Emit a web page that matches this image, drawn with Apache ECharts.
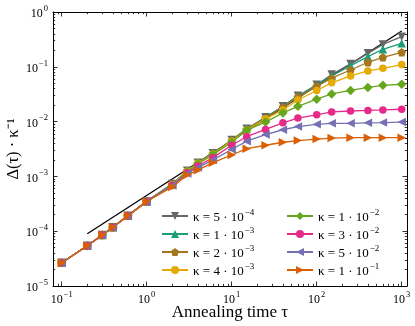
<!DOCTYPE html>
<html>
<head>
<meta charset="utf-8">
<script src="https://cdn.jsdelivr.net/npm/echarts@6/dist/echarts.min.js"></script>
<style>
  html, body { margin: 0; padding: 0; background: #fff; }
  #chart { width: 415px; height: 326px; }
</style>
</head>
<body>
<div id="chart"></div>
<script>
// annealing times (shared by every curve)
const tau = [0.1, 0.2, 0.3, 0.4, 0.6, 1, 2, 3, 4, 6, 10, 15, 25, 40, 60, 100, 150, 250, 400, 600, 1000]

// kappa values, written as mantissa * 10^exp
const kappaMant = [5, 1, 2, 4, 1, 3, 5, 1]
const kappaExp = [-4, -3, -3, -3, -2, -2, -2, -1]

// Delta(tau) / kappa, one array per kappa
const k5e4 = [2.66e-5, 5.44e-5, 8.5e-5, 1.18e-4, 1.92e-4, 3.5e-4, 7.3e-4, 1.27e-3, 1.78e-3, 2.64e-3, 4.6e-3, 7.4e-3, 0.012, 0.019, 0.0295, 0.047, 0.072, 0.113, 0.176, 0.256, 0.355]
const k1e3 = [2.66e-5, 5.44e-5, 8.5e-5, 1.18e-4, 1.92e-4, 3.5e-4, 7.3e-4, 1.27e-3, 1.78e-3, 2.63e-3, 4.55e-3, 7.3e-3, 0.0118, 0.0188, 0.029, 0.046, 0.068, 0.105, 0.153, 0.209, 0.268]
const k2e3 = [2.66e-5, 5.44e-5, 8.5e-5, 1.18e-4, 1.92e-4, 3.5e-4, 7.2e-4, 1.26e-3, 1.76e-3, 2.6e-3, 4.5e-3, 7.2e-3, 0.0116, 0.0183, 0.028, 0.044, 0.062, 0.0875, 0.121, 0.149, 0.184]
const k4e3 = [2.66e-5, 5.44e-5, 8.5e-5, 1.18e-4, 1.92e-4, 3.5e-4, 7.1e-4, 1.24e-3, 1.73e-3, 2.55e-3, 4.4e-3, 7.0e-3, 0.0112, 0.0163, 0.0248, 0.037, 0.051, 0.068, 0.084, 0.094, 0.11]
const k1e2 = [2.66e-5, 5.44e-5, 8.5e-5, 1.18e-4, 1.92e-4, 3.5e-4, 7.0e-4, 1.2e-3, 1.68e-3, 2.5e-3, 4.2e-3, 7.0e-3, 0.0098, 0.0144, 0.019, 0.0256, 0.032, 0.037, 0.042, 0.046, 0.048]
const k3e2 = [2.66e-5, 5.44e-5, 8.5e-5, 1.18e-4, 1.92e-4, 3.5e-4, 6.9e-4, 1.17e-3, 1.55e-3, 2.2e-3, 3.7e-3, 5.3e-3, 0.0072, 0.0095, 0.0116, 0.0133, 0.015, 0.0156, 0.016, 0.0163, 0.0168]
const k5e2 = [2.66e-5, 5.44e-5, 8.5e-5, 1.18e-4, 1.92e-4, 3.5e-4, 6.8e-4, 1.13e-3, 1.45e-3, 2.0e-3, 3.1e-3, 4.4e-3, 0.0058, 0.0071, 0.0081, 0.0089, 0.0093, 0.0093, 0.0095, 0.0096, 0.0098]
const k1e1 = [2.66e-5, 5.44e-5, 8.5e-5, 1.18e-4, 1.92e-4, 3.5e-4, 6.4e-4, 1.06e-3, 1.3e-3, 1.78e-3, 2.46e-3, 3.2e-3, 0.0037, 0.0042, 0.0045, 0.0048, 0.005, 0.0051, 0.0051, 0.0051, 0.0051]

// straight guide line (slope 1)
const guideX = [0.2, 1000]
const guideY = [9e-5, 0.45]

// axis ticks
const xMajor = [0.1, 1, 10, 100, 1000]
const yMajor = [1e-5, 1e-4, 1e-3, 1e-2, 1e-1, 1]

const values = [k5e4, k1e3, k2e3, k4e3, k1e2, k3e2, k5e2, k1e1]
const colors = ['#666666', '#1b9e77', '#a6761d', '#e6ab02', '#66a61e', '#e7298a', '#7570b3', '#d95f02']
const symbols = [
  'path://M0,0L10,0L5,9z',
  'path://M5,0L10,9L0,9z',
  'path://M5,0L10,3.6L8.1,9.5L1.9,9.5L0,3.6z',
  'circle',
  'diamond',
  'circle',
  'path://M0,5L9,0L9,10z',
  'path://M0,0L9,5L0,10z',
]
const sizes = [8.5, 8.5, 8.5, 7.5, 9.5, 7.5, 8.5, 8.5]

const serif = 'Liberation Serif'
const minor = (lo, hi) => {
  const out = []
  for (let e = -6; e <= 4; e++) {
    for (let m = 2; m <= 9; m++) {
      const v = m * Math.pow(10, e)
      if (v > lo && v < hi) out.push(v)
    }
  }
  return out
}
const xMin = 0.079, xMax = 1154
const yMin = 1e-5, yMax = 1

const names = kappaMant.map((m, i) => 'κ = ' + m + ' · 10^' + kappaExp[i])
const supText = (v) => {
  const e = Math.round(Math.log10(v))
  return '{b|10}{s|' + (e < 0 ? '−' + -e : e) + '}'
}
const tickRich = {
  b: { fontFamily: serif, fontSize: 12, color: '#000', lineHeight: 16, verticalAlign: 'bottom' },
  s: { fontFamily: serif, fontSize: 8.5, color: '#000', lineHeight: 16, verticalAlign: 'top', padding: [0, 0, 0, 1] },
}

const axisBase = (pos, min, max, ticks, len, showLine) => ({
  type: 'log',
  position: pos,
  min: min,
  max: max,
  logBase: 10,
  axisLine: { show: showLine, lineStyle: { color: '#000', width: 1 } },
  axisTick: { show: true, inside: true, length: len, customValues: ticks, lineStyle: { color: '#000', width: 0.8 } },
  axisLabel: { show: false },
  splitLine: { show: false },
  minorTick: { show: false },
})

const xAxes = [
  Object.assign(axisBase('bottom', xMin, xMax, xMajor, 4.5, true), {
    name: 'Annealing time τ',
    nameLocation: 'middle',
    nameGap: 18,
    nameMoveOverlap: false,
    nameTextStyle: { fontFamily: serif, fontSize: 17, color: '#000' },
    axisLabel: { show: true, customValues: xMajor, margin: 4, formatter: supText, rich: tickRich },
  }),
  axisBase('bottom', xMin, xMax, minor(xMin, xMax), 2.2, false),
  axisBase('top', xMin, xMax, xMajor, 4.5, true),
  axisBase('top', xMin, xMax, minor(xMin, xMax), 2.2, false),
]
const yAxes = [
  Object.assign(axisBase('left', yMin, yMax, yMajor, 4.5, true), {
    name: 'Δ(τ) · κ⁻¹',
    nameLocation: 'middle',
    nameGap: 31,
    nameMoveOverlap: false,
    nameTextStyle: { fontFamily: serif, fontSize: 16.5, color: '#000' },
    axisLabel: { show: true, customValues: yMajor, margin: 5, formatter: supText, rich: tickRich },
  }),
  axisBase('left', yMin, yMax, minor(yMin, yMax), 2.2, false),
  axisBase('right', yMin, yMax, yMajor, 4.5, true),
  axisBase('right', yMin, yMax, minor(yMin, yMax), 2.2, false),
]

const series = [
  {
    type: 'line',
    name: 'guide',
    data: guideX.map((x, i) => [x, guideY[i]]),
    showSymbol: false,
    symbol: 'none',
    lineStyle: { color: '#000', width: 1.3 },
    silent: true,
    z: 1,
  },
].concat(values.map((vals, i) => ({
  type: 'line',
  name: names[i],
  data: tau.map((t, j) => [t, vals[j]]),
  symbol: symbols[i],
  symbolSize: sizes[i],
  itemStyle: { color: colors[i], borderWidth: 0 },
  lineStyle: { color: colors[i], width: 1.3 },
  z: 2 + i,
})))

const legendText = (name) => {
  const i = names.indexOf(name)
  const e = kappaExp[i]
  return '{t|κ = ' + kappaMant[i] + ' · 10}{s|' + (e < 0 ? '−' + -e : e) + '}'
}
const legendRich = {
  t: { fontFamily: serif, fontSize: 13, color: '#000', lineHeight: 16, verticalAlign: 'bottom' },
  s: { fontFamily: serif, fontSize: 9, color: '#000', lineHeight: 16, verticalAlign: 'top', padding: [0, 0, 0, 1] },
}
const legendBase = (left, list) => ({
  orient: 'vertical',
  left: left,
  top: 208,
  data: list,
  itemWidth: 26,
  itemHeight: 10,
  itemGap: 2,
  padding: 0,
  formatter: legendText,
  textStyle: { rich: legendRich },
  selectedMode: false,
})

const chart = echarts.init(document.getElementById('chart'))
chart.setOption({
  animation: false,
  backgroundColor: '#fff',
  grid: { left: 53, right: 8, top: 12, bottom: 40, containLabel: false, outerBoundsMode: 'none' },
  xAxis: xAxes,
  yAxis: yAxes,
  legend: [legendBase(161, names.slice(0, 4)), legendBase(286, names.slice(4))],
  series: series,
})
</script>
</body>
</html>
